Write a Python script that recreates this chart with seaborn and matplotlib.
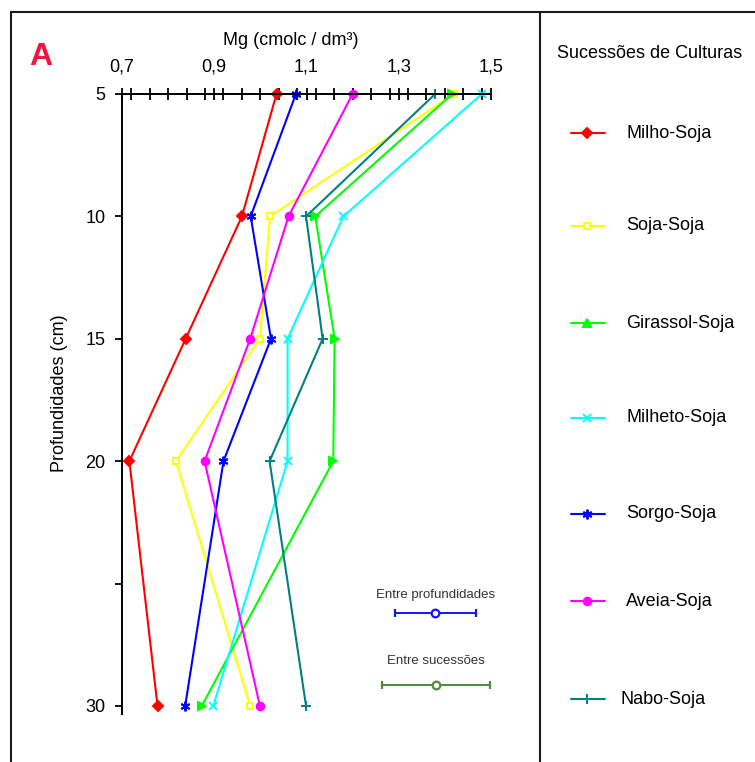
import matplotlib
matplotlib.use("Agg")
import matplotlib.pyplot as plt
from matplotlib import font_manager
from matplotlib.lines import Line2D
from matplotlib.ticker import MultipleLocator
import pandas as pd
import seaborn as sns

# Data (Mg, cmolc/dm3, per depth)
DEPTHS = [5, 10, 15, 20, 30]
SUCCESSIONS = ["Milho-Soja", "Soja-Soja", "Girassol-Soja", "Milheto-Soja",
               "Sorgo-Soja", "Aveia-Soja", "Nabo-Soja"]
MILHO = [1.035, 0.960, 0.838, 0.716, 0.777]
SOJA = [1.420, 1.021, 0.999, 0.817, 0.978]
GIRASSOL = [1.416, 1.119, 1.161, 1.158, 0.873]
MILHETO = [1.480, 1.180, 1.059, 1.059, 0.898]
SORGO = [1.077, 0.979, 1.023, 0.920, 0.837]
AVEIA = [1.200, 1.061, 0.978, 0.879, 0.999]
NABO = [1.379, 1.099, 1.135, 1.020, 1.099]

X_TICKS = [0.7, 0.9, 1.1, 1.3, 1.5]
X_TICK_LABELS = ["0,7", "0,9", "1,1", "1,3", "1,5"]
Y_TICKS = [5, 10, 15, 20, 25, 30]
Y_TICK_LABELS = ["5", "10", "15", "20", "", "30"]

# least significant difference bars
ERR_LABELS = ["Entre profundidades", "Entre sucessões"]
ERR_CENTER = [1.379, 1.381]
ERR_DEPTH = [26.2, 29.15]
ERR_HALF = [0.0875, 0.117]

COLORS = ["#ff0000", "#ffff00", "#00ff00", "#00ffff", "#0000ff", "#ff00ff", "#008080"]
MARKERS = ["D", "s", ">", "x", (6, 2, 0), "o", "+"]
LEG_MARKERS = ["D", "s", "^", "x", (6, 2, 0), "o", "+"]
MSIZES = [5, 5, 5.5, 6, 7, 5.5, 7]
ERR_COLORS = ["#1414ff", "#4b8b3b"]

sns.set_theme(style="white")
plt.rcParams["font.family"] = ["Liberation Sans", "DejaVu Sans"]
plt.rcParams["axes.edgecolor"] = "black"
plt.rcParams["text.color"] = "black"
plt.rcParams["axes.labelcolor"] = "black"

df = pd.DataFrame({
    "depth": DEPTHS * len(SUCCESSIONS),
    "mg": MILHO + SOJA + GIRASSOL + MILHETO + SORGO + AVEIA + NABO,
    "succ": [s for s in SUCCESSIONS for _ in DEPTHS],
})

W, H = 755, 762
fig = plt.figure(figsize=(W / 100, H / 100), dpi=100)
ax = fig.add_axes([122 / W, (H - 714) / H, (491 - 122) / W, (714 - 94) / H])

for name, c, m, ms in zip(SUCCESSIONS, COLORS, MARKERS, MSIZES):
    sub = df[df["succ"] == name]
    sns.lineplot(data=sub, x="mg", y="depth", orient="y", sort=False, errorbar=None,
                 color=c, marker=m, markersize=ms, markeredgecolor=c,
                 markerfacecolor="white" if name == "Soja-Soja" else c,
                 markeredgewidth=1.4, linewidth=1.5, ax=ax, legend=False)
for line in ax.lines:
    line.set_clip_on(False)

# error bars
for lab, cx, d, hw, c in zip(ERR_LABELS, ERR_CENTER, ERR_DEPTH, ERR_HALF, ERR_COLORS):
    ax.errorbar([cx], [d], xerr=[hw], color=c, marker="o", markersize=5.5,
                markerfacecolor="white", markeredgewidth=1.6, elinewidth=1.4,
                capsize=3.2, capthick=1.3)

names = {f.name for f in font_manager.fontManager.ttflist}
if "Liberation Sans Narrow" in names:
    small_font, small_size = ["Liberation Sans Narrow", "DejaVu Sans"], 11
else:
    small_font, small_size = ["Liberation Sans", "DejaVu Sans"], 9.5
for lab, cx, d, off in zip(ERR_LABELS, ERR_CENTER, ERR_DEPTH, [13, 17.5]):
    ax.annotate(lab, (cx, d), xytext=(0, off), textcoords="offset points",
                ha="center", va="center", fontsize=small_size, family=small_font,
                color="#333333")

ax.set_xlim(0.7, 1.5)
ax.set_ylim(30.33, 5)
ax.xaxis.tick_top()
ax.xaxis.set_label_position("top")
ax.set_xticks(X_TICKS)
ax.set_xticklabels(X_TICK_LABELS)
ax.xaxis.set_minor_locator(MultipleLocator(0.04))
ax.set_yticks(Y_TICKS)
ax.set_yticklabels(Y_TICK_LABELS)
ax.tick_params(axis="x", which="both", direction="inout", length=9, width=1.3,
               labelsize=13, pad=9, colors="black")
ax.tick_params(axis="y", which="both", direction="out", length=5, width=1.3,
               labelsize=13, pad=7, colors="black", left=True)
for s in ["right", "bottom"]:
    ax.spines[s].set_visible(False)
for s in ["top", "left"]:
    ax.spines[s].set_linewidth(1.4)
ax.set_xlabel("Mg (cmolc / dm³)", fontsize=13)
ax.xaxis.set_label_coords((291 - 122) / 369, (714 - 45) / 620)
ax.set_ylabel("Profundidades (cm)", fontsize=13)
ax.yaxis.set_label_coords(-0.146, (714 - 393) / 620)
ax.grid(False)
ax.patch.set_alpha(0)

# panel letter
fig.text(41 / W, 1 - 57 / H, "A", fontsize=23, fontweight="bold", color="#f2163e",
         ha="center", va="center")

# frame lines
frame_kw = dict(transform=fig.transFigure, color="#1a1a1a", linewidth=1.5)
fig.add_artist(Line2D([11 / W, 11 / W], [0, 1 - 12 / H], **frame_kw))
fig.add_artist(Line2D([11 / W, 1], [1 - 12 / H, 1 - 12 / H], **frame_kw))
fig.add_artist(Line2D([540 / W, 540 / W], [0, 1 - 12 / H], **frame_kw))

# legend panel (pixel coordinates)
lax = fig.add_axes([0, 0, 1, 1], zorder=-1)
lax.set_xlim(0, W)
lax.set_ylim(H, 0)
lax.axis("off")
lax.text(650, 53, "Sucessões de Culturas", fontsize=13, ha="center", va="center")
LEG_Y = [133, 226, 323, 418, 514, 601, 699]
LEG_TX = [626, 626, 626, 626, 626, 626, 620]
for name, c, m, ms, y, tx in zip(SUCCESSIONS, COLORS, LEG_MARKERS, MSIZES, LEG_Y, LEG_TX):
    lax.plot([571, 587, 605], [y, y, y], color=c, linewidth=1.5, marker=m,
             markevery=[1], markersize=ms, markeredgecolor=c,
             markerfacecolor="white" if name == "Soja-Soja" else c, markeredgewidth=1.4)
    lax.text(tx, y, name, fontsize=13, ha="left", va="center")

fig.savefig("out.png", dpi=100)
